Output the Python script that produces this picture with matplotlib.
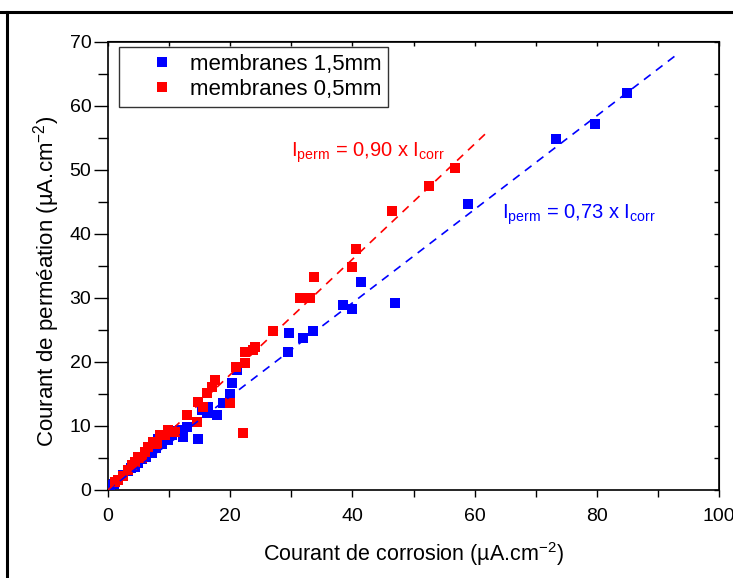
import matplotlib
matplotlib.use("Agg")
import matplotlib.pyplot as plt
import numpy as np
from matplotlib.lines import Line2D

plt.rcParams['font.family'] = ['Liberation Sans', 'DejaVu Sans']
plt.rcParams['mathtext.default'] = 'regular'

# membranes 1,5mm (blue)
blue_x = [0.3, 1.0, 1.6, 2.5, 3.2, 3.8, 4.4, 4.9, 5.5, 6.2, 7.2, 7.8, 8.2, 8.8, 9.8,
          10.5, 11.5, 11.8, 12.3, 13.0, 14.7, 15.4, 16.2, 16.4, 17.8, 18.8, 20.0, 20.3,
          21.1, 29.4, 29.6, 31.9, 33.6, 38.5, 40.0, 41.4, 47.0, 58.9, 73.3, 79.7, 85.0]
blue_y = [0.8, 1.0, 1.5, 2.3, 3.0, 3.4, 3.6, 4.2, 4.8, 5.2, 5.8, 6.5, 8.0, 7.2, 7.8,
          8.6, 9.2, 9.4, 8.3, 9.8, 8.0, 12.5, 12.0, 12.9, 11.7, 13.6, 15.0, 16.7,
          18.7, 21.5, 24.5, 23.7, 24.8, 28.9, 28.2, 32.4, 29.2, 44.6, 54.8, 57.2, 62.0]

# membranes 0,5mm (red)
red_x = [1.1, 1.6, 2.5, 3.3, 3.9, 4.5, 4.9, 5.5, 6.1, 6.5, 7.4, 8.0, 8.5, 9.3, 9.8,
         10.5, 11.0, 12.9, 14.6, 14.7, 15.5, 16.2, 17.0, 17.5, 20.0, 21.0, 22.1, 22.4,
         22.4, 23.8, 24.1, 27.0, 31.4, 33.1, 33.7, 39.9, 40.6, 46.5, 52.5, 56.8]
red_y = [1.2, 1.6, 2.2, 3.1, 3.9, 4.4, 5.1, 5.0, 5.9, 6.7, 7.5, 7.2, 8.6, 8.6, 9.4,
         9.0, 9.0, 11.7, 10.6, 13.7, 13.0, 15.1, 16.1, 17.2, 13.6, 19.2, 8.9, 19.8,
         21.5, 21.8, 22.3, 24.8, 30.0, 30.0, 33.2, 34.8, 37.6, 43.5, 47.4, 50.2]

# linear fits
slope_blue = 0.73
slope_red = 0.90
fit_blue_x = [0, 93.5]
fit_red_x = [0, 62]

labels = ['membranes 1,5mm', 'membranes 0,5mm']
x_ticks = [0, 20, 40, 60, 80, 100]
y_ticks = [0, 10, 20, 30, 40, 50, 60, 70]

W, H = 733, 578
fig = plt.figure(figsize=(W / 100, H / 100), dpi=100)
ax = fig.add_axes([108 / W, 1 - 490 / H, (719 - 108) / W, (490 - 41.5) / H])

ax.plot(blue_x, blue_y, ls='none', marker='s', ms=7.5, mew=0, color='#0000ff',
        label=labels[0], zorder=3)
ax.plot(red_x, red_y, ls='none', marker='s', ms=7.5, mew=0, color='#ff0000',
        label=labels[1], zorder=3)

bx = np.array(fit_blue_x)
rx = np.array(fit_red_x)
ax.plot(bx, slope_blue * bx, ls=(0, (5, 4)), lw=1.2, color='#0000ff', zorder=4)
ax.plot(rx, slope_red * rx, ls=(0, (5, 4)), lw=1.2, color='#ff0000', zorder=4)

ax.set_xlim(0, 100)
ax.set_ylim(0, 70)
ax.set_xticks(x_ticks)
ax.set_yticks(y_ticks)
ax.set_xticks(np.arange(10, 100, 20), minor=True)
ax.set_yticks(np.arange(5, 70, 10), minor=True)
ax.tick_params(which='both', direction='out', width=1, labelsize=14)
ax.tick_params(axis='x', which='major', length=4.7, pad=8)
ax.tick_params(axis='x', which='minor', length=4.7)
ax.tick_params(axis='y', which='major', length=10, pad=2)
ax.tick_params(axis='y', which='minor', length=7)
for s in ax.spines.values():
    s.set_linewidth(1.2)

# top / right ticks pointing inward
top = ax.secondary_xaxis('top')
top.set_xticks(x_ticks)
top.set_xticks(np.arange(10, 100, 20), minor=True)
top.tick_params(which='both', direction='in', labeltop=False, width=1, length=3.6)
right = ax.secondary_yaxis('right')
right.set_yticks(y_ticks)
right.set_yticks(np.arange(5, 70, 10), minor=True)
right.tick_params(which='both', direction='in', labelright=False, width=1, length=3.6)

ax.set_xlabel('Courant de corrosion (µA.cm$^{-2}$)', fontsize=15.5, labelpad=11)
ax.set_ylabel('Courant de perméation (µA.cm$^{-2}$)', fontsize=16)
ax.yaxis.set_label_coords(-0.075, 0.465)

ax.text(30.0, 52.0, '$I_{perm}$ = 0,90 x $I_{corr}$', color='#ff0000', fontsize=14.5)
ax.text(64.5, 42.3, '$I_{perm}$ = 0,73 x $I_{corr}$', color='#0000ff', fontsize=14.5)

leg = ax.legend(loc='upper left', bbox_to_anchor=(0.018, 0.988), borderaxespad=0,
                fontsize=16, frameon=True, fancybox=False, edgecolor='black',
                markerscale=0.9, handlelength=3.27, handletextpad=-0.37,
                borderpad=0.3, labelspacing=0.2)
leg.get_frame().set_linewidth(1.0)

# outer frame lines
fig.add_artist(Line2D([0, 1], [1 - 12 / H, 1 - 12 / H], transform=fig.transFigure,
                      color='black', lw=2.2))
fig.add_artist(Line2D([6.5 / W, 6.5 / W], [0, 1 - 12 / H], transform=fig.transFigure,
                      color='black', lw=2.2))

fig.savefig('out.png', dpi=100)
